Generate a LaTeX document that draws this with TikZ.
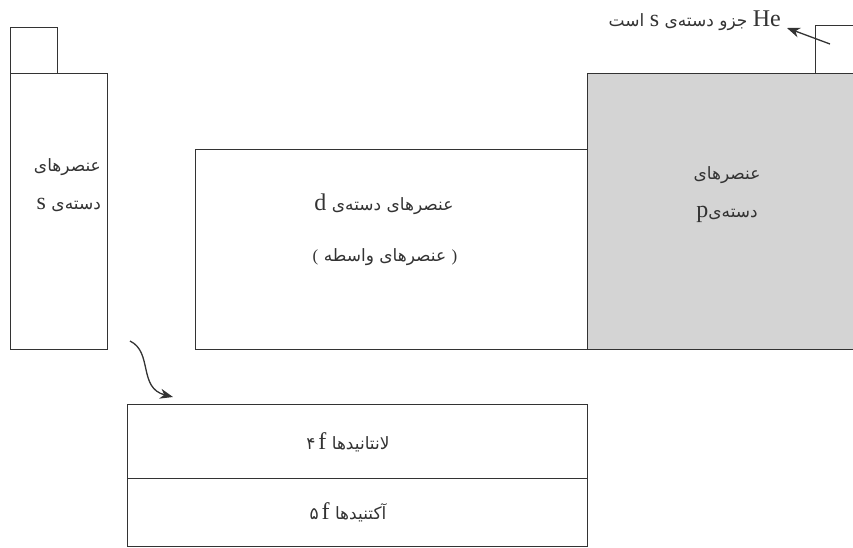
\documentclass[tikz,border=0pt]{standalone}
\usepackage{fontspec}
\setmainfont{Liberation Serif}
\newfontfamily\ar[Script=Arabic]{DejaVu Sans}
\newfontfamily\lat{Liberation Serif}
\TeXXeTstate=1
\usetikzlibrary{arrows.meta}
\definecolor{edge}{HTML}{333333}
\definecolor{pgray}{HTML}{D4D4D4}
\tikzset{
  blockbox/.style={draw=edge, line width=0.9pt},
  artext/.style={inner sep=0pt, font=\ar\fontsize{17}{20}\selectfont, text=edge},
  pointer/.style={draw=edge, line width=1.3pt, -{Stealth[length=13pt,width=10pt,inset=4pt]}},
}
\newcommand{\lt}[1]{{\lat\fontsize{24}{24}\selectfont #1}}
\newcommand{\paren}[1]{{\lat\fontsize{17}{17}\selectfont #1}}
\begin{document}
\begin{tikzpicture}[x=1pt,y=-1pt]
\useasboundingbox (0,0) rectangle (853,547);
\clip (0,0) rectangle (853,547);
% s block
\draw[blockbox] (10,27) rectangle (57,73);
\draw[blockbox] (10,73) rectangle (107,349);
\node[artext, anchor=east] (s1) at (101,167) {\beginR عنصرهای\endR};
\node[artext, anchor=east] (s2) at (101,205) {\beginR دسته‌ی \lt{s}\endR};
% d block
\draw[blockbox] (195,149) rectangle (587,349);
\node[artext] (d1) at (384,204) {\beginR عنصرهای دسته‌ی \lt{d}\endR};
\node[artext] (d2) at (385,257) {\paren{(} \beginR عنصرهای واسطه\endR\ \paren{)}};
% p block
\draw[blockbox, fill=pgray] (587,73) rectangle (860,349);
\node[artext] (p1) at (727,175) {\beginR عنصرهای\endR};
\node[artext] (p2) at (727,214) {\beginR دسته‌ی\lt{p}\endR};
% He box
\draw[blockbox] (815,25) rectangle (860,73);
\coordinate (hestart) at (830,44);
\node[artext, anchor=east] (he) at (781,21) {\beginR\lt{He} جزو دسته‌ی \lt{s} است\endR};
\draw[pointer] (hestart) -- ([xshift=6pt,yshift=-7pt]he.east);
% f block
\draw[blockbox] (127,404) rectangle (587,546);
\draw[blockbox] (127,478) -- (587,478);
\node[artext] (f1) at (348,442) {\beginR لانتانیدها \beginL{\ar ۴}\,\lt{f}\endL\endR};
\node[artext] (f2) at (348,512) {\beginR آکتنیدها \beginL{\ar ۵}\,\lt{f}\endL\endR};
\coordinate (cstart) at (130,341);
\coordinate (cend) at (173,397);
\draw[pointer] (cstart) .. controls (153,352) and (138,388) .. (cend);
\end{tikzpicture}
\end{document}
